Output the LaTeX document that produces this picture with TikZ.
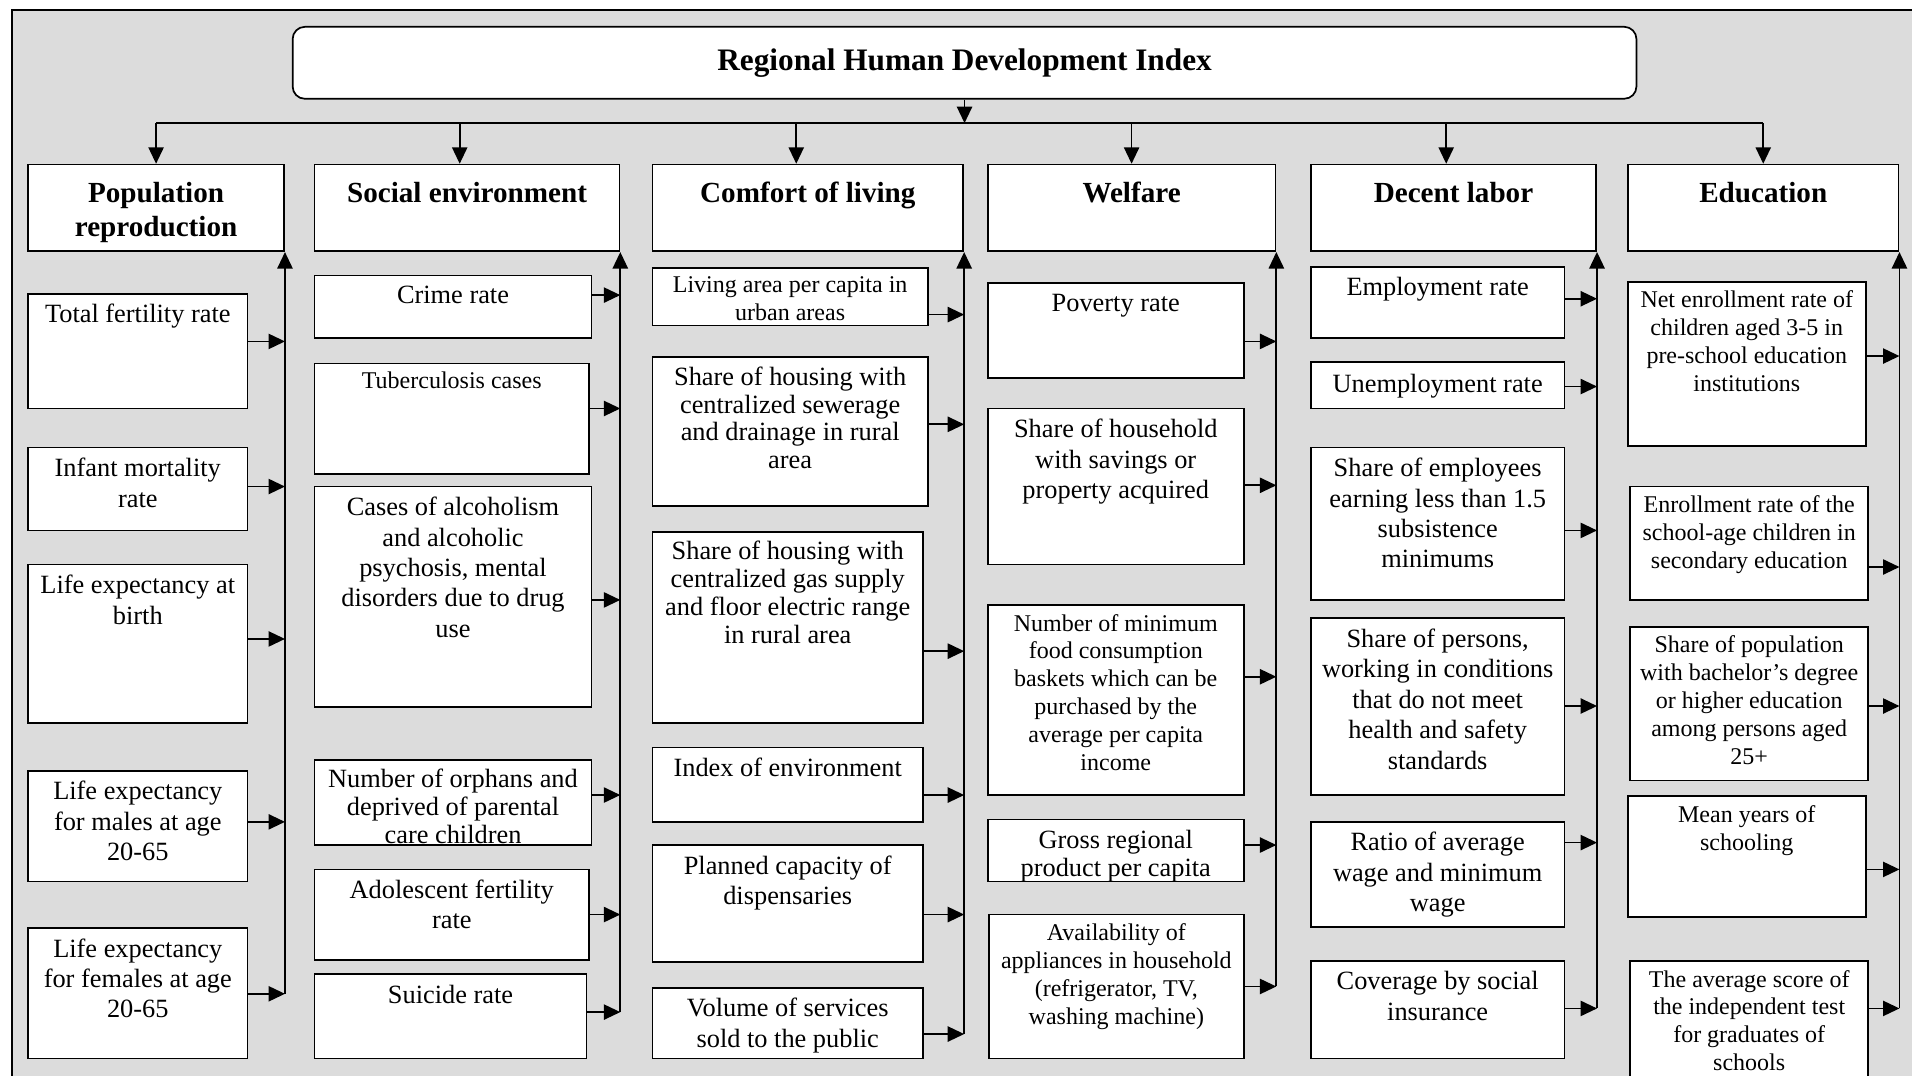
\documentclass[tikz,border=0pt]{standalone}
\usepackage{fontspec}
\setmainfont{Liberation Serif}
\usepackage{tikz}
\usetikzlibrary{arrows.meta,positioning,fit}
\definecolor{fondgris}{RGB}{220,220,220}
\tikzstyle{cadre}=[draw, fill=white, line width=0.8pt, inner sep=0pt]
\tikzstyle{txt}=[align=center, inner sep=0pt, font=\fontsize{12.3}{14.2}\selectfont]
\tikzstyle{txtserre}=[txt, font=\fontsize{12.3}{13}\selectfont]
\tikzstyle{petit}=[txt, font=\fontsize{11.2}{13}\selectfont]
\tikzstyle{rubrique}=[align=center, inner sep=0pt, font=\fontsize{13.6}{15.9}\selectfont\bfseries]

\begin{document}
\begin{tikzpicture}[x=0.2mm, y=-0.2mm]
	\tikzstyle{fleche}=[line width=0.8pt, -{Triangle[length=2.7mm,width=2.5mm]}]
	\useasboundingbox (0,0) rectangle (1568,882);
	\clip (0,0) rectangle (1568,882);
	\fill[white] (0,0) rectangle (1568,882);
	\draw[fill=fondgris, line width=1pt] (10,8) rectangle (1620,940);

	% Indice
	\node[cadre, rounded corners=2mm, fit={(240,22) (1342,81)}] (idh) {};
	\node[inner sep=0pt, font=\fontsize{14.6}{17}\selectfont\bfseries] (idht) at (idh.center) {Regional Human Development Index};
	\coordinate (bus) at (791,101);

	% Rubriques
	\node[cadre, fit={(23,135) (233,206)}] (hpr) {};
	\node[cadre, fit={(258,135) (508,206)}] (hse) {};
	\node[cadre, fit={(535,135) (790,206)}] (hcl) {};
	\node[cadre, fit={(810,135) (1046,206)}] (hwf) {};
	\node[cadre, fit={(1075,135) (1309,206)}] (hdl) {};
	\node[cadre, fit={(1335,135) (1557,206)}] (hed) {};
	\node[rubrique, below=2.9mm of hpr.north] (hprt) {Population\\reproduction};
	\node[rubrique, below=2.9mm of hse.north] (hset) {Social environment};
	\node[rubrique, below=2.9mm of hcl.north] (hclt) {Comfort of living};
	\node[rubrique, below=2.9mm of hwf.north] (hwft) {Welfare};
	\node[rubrique, below=2.9mm of hdl.north] (hdlt) {Decent labor};
	\node[rubrique, below=2.9mm of hed.north] (hedt) {Education};

	% Population reproduction
	\node[cadre, fit={(23,241) (203,335)}] (pr1) {};
	\node[cadre, fit={(23,367) (203,435)}] (pr2) {};
	\node[cadre, fit={(23,463) (203,593)}] (pr3) {};
	\node[cadre, fit={(23,632) (203,723)}] (pr4) {};
	\node[cadre, fit={(23,761) (203,868)}] (pr5) {};
	\node[txt, below=1.8mm of pr1.north] (pr1t) {Total fertility rate};
	\node[txt, below=1.8mm of pr2.north] (pr2t) {Infant mortality\\rate};
	\node[txt, below=1.8mm of pr3.north] (pr3t) {Life expectancy at\\birth};
	\node[txt, below=1.8mm of pr4.north] (pr4t) {Life expectancy\\for males at age\\20-65};
	\node[txt, below=1.8mm of pr5.north] (pr5t) {Life expectancy\\for females at age\\20-65};

	% Social environment
	\node[cadre, fit={(258,226) (485,277)}] (se1) {};
	\node[cadre, fit={(258,298) (483,389)}] (se2) {};
	\node[cadre, fit={(258,399) (485,580)}] (se3) {};
	\node[cadre, fit={(258,623) (485,693)}] (se4) {};
	\node[cadre, fit={(258,713) (483,787)}] (se5) {};
	\node[cadre, fit={(258,799) (481,868)}] (se6) {};
	\node[txt, below=1.8mm of se1.north] (se1t) {Crime rate};
	\node[petit, below=1.5mm of se2.north] (se2t) {Tuberculosis cases};
	\node[txt, below=1.8mm of se3.north] (se3t) {Cases of alcoholism\\and alcoholic\\psychosis, mental\\disorders due to drug\\use};
	\node[txtserre, below=1.6mm of se4.north] (se4t) {Number of orphans and\\deprived of parental\\care children};
	\node[txt, below=1.8mm of se5.north] (se5t) {Adolescent fertility\\rate};
	\node[txt, below=1.8mm of se6.north] (se6t) {Suicide rate};

	% Comfort of living
	\node[cadre, fit={(535,220) (761,267)}] (cl1) {};
	\node[cadre, fit={(535,293) (761,415)}] (cl2) {};
	\node[cadre, fit={(535,436) (757,593)}] (cl3) {};
	\node[cadre, fit={(535,613) (757,674)}] (cl4) {};
	\node[cadre, fit={(535,693) (757,789)}] (cl5) {};
	\node[cadre, fit={(535,810) (757,868)}] (cl6) {};
	\node[petit, below=1.5mm of cl1.north] (cl1t) {Living area per capita in\\urban areas};
	\node[txtserre, below=1.6mm of cl2.north] (cl2t) {Share of housing with\\centralized sewerage\\and drainage in rural\\area};
	\node[txtserre, below=1.6mm of cl3.north] (cl3t) {Share of housing with\\centralized gas supply\\and floor electric range\\in rural area};
	\node[txt, below=1.8mm of cl4.north] (cl4t) {Index of environment};
	\node[txt, below=1.8mm of cl5.north] (cl5t) {Planned capacity of\\dispensaries};
	\node[txt, below=1.8mm of cl6.north] (cl6t) {Volume of services\\sold to the public};

	% Welfare
	\node[cadre, fit={(810,232) (1020,310)}] (wf1) {};
	\node[cadre, fit={(810,335) (1020,463)}] (wf2) {};
	\node[cadre, fit={(810,496) (1020,652)}] (wf3) {};
	\node[cadre, fit={(810,672) (1020,723)}] (wf4) {};
	\node[cadre, fit={(811,750) (1020,868)}] (wf5) {};
	\node[txt, below=1.9mm of wf1.north] (wf1t) {Poverty rate};
	\node[txt, below=1.8mm of wf2.north] (wf2t) {Share of household\\with savings or\\property acquired};
	\node[petit, below=1.6mm of wf3.north] (wf3t) {Number of minimum\\food consumption\\baskets which can be\\purchased by the\\average per capita\\income};
	\node[txtserre, below=1.8mm of wf4.north] (wf4t) {Gross regional\\product per capita};
	\node[petit, below=1.6mm of wf5.north] (wf5t) {Availability of\\appliances in household\\(refrigerator, TV,\\washing machine)};

	% Decent labor
	\node[cadre, fit={(1075,219) (1283,277)}] (dl1) {};
	\node[cadre, fit={(1075,297) (1283,335)}] (dl2) {};
	\node[cadre, fit={(1075,367) (1283,492)}] (dl3) {};
	\node[cadre, fit={(1075,507) (1283,652)}] (dl4) {};
	\node[cadre, fit={(1075,674) (1283,760)}] (dl5) {};
	\node[cadre, fit={(1075,788) (1283,868)}] (dl6) {};
	\node[txt, below=1.8mm of dl1.north] (dl1t) {Employment rate};
	\node[txt, below=2mm of dl2.north] (dl2t) {Unemployment rate};
	\node[txt, below=1.8mm of dl3.north] (dl3t) {Share of employees\\earning less than 1.5\\subsistence\\minimums};
	\node[txt, below=1.8mm of dl4.north] (dl4t) {Share of persons,\\working in conditions\\that do not meet\\health and safety\\standards};
	\node[txt, below=1.8mm of dl5.north] (dl5t) {Ratio of average\\wage and minimum\\wage};
	\node[txt, below=1.8mm of dl6.north] (dl6t) {Coverage by social\\insurance};

	% Education
	\node[cadre, fit={(1335,231) (1530,366)}] (ed1) {};
	\node[cadre, fit={(1337,399) (1532,492)}] (ed2) {};
	\node[cadre, fit={(1337,514) (1532,640)}] (ed3) {};
	\node[cadre, fit={(1335,653) (1530,752)}] (ed4) {};
	\node[cadre, fit={(1337,788) (1532,895)}] (ed5) {};
	\node[petit, below=1.6mm of ed1.north] (ed1t) {Net enrollment rate of\\children aged 3-5 in\\pre-school education\\institutions};
	\node[petit, below=1.6mm of ed2.north] (ed2t) {Enrollment rate of the\\school-age children in\\secondary education};
	\node[petit, below=1.6mm of ed3.north] (ed3t) {Share of population\\with bachelor’s degree\\or higher education\\among persons aged\\25+};
	\node[petit, below=1.6mm of ed4.north] (ed4t) {Mean years of\\schooling};
	\node[petit, below=1.6mm of ed5.north] (ed5t) {The average score of\\the independent test\\for graduates of\\schools};

	% Liaisons indice - rubriques
	\draw[fleche] (idh.south) -- (bus);
	\draw[line width=0.8pt] (hpr.north |- bus) -- (hed.north |- bus);
	\path[fleche]
	(hpr.north |- bus) edge (hpr.north)
	(bus -| 377,0) edge (hse.north -| 377,0)
	(bus -| 653,0) edge (hcl.north -| 653,0)
	(hwf.north |- bus) edge (hwf.north)
	(bus -| 1186,0) edge (hdl.north -| 1186,0)
	(hed.north |- bus) edge (hed.north)
	;

	% Collecteurs
	\draw[fleche] (hpr.south east |- 0,815) -- (hpr.south east);
	\draw[fleche] (hse.south east |- 0,830) -- (hse.south east);
	\draw[fleche] (hcl.south east |- 0,848) -- (hcl.south east);
	\draw[fleche] (hwf.south east |- 0,809) -- (hwf.south east);
	\draw[fleche] (hdl.south east |- 0,827) -- (hdl.south east);
	\draw[fleche] (hed.south east |- 0,827) -- (hed.south east);

	% Indicateurs vers collecteurs
	\path[fleche]
	(pr1.east |- 0,280) edge (hpr.south east |- 0,280)
	(pr2.east |- 0,399) edge (hpr.south east |- 0,399)
	(pr3.east |- 0,524) edge (hpr.south east |- 0,524)
	(pr4.east |- 0,674) edge (hpr.south east |- 0,674)
	(pr5.east |- 0,815) edge (hpr.south east |- 0,815)
	(se1.east |- 0,242) edge (hse.south east |- 0,242)
	(se2.east |- 0,335) edge (hse.south east |- 0,335)
	(se3.east |- 0,492) edge (hse.south east |- 0,492)
	(se4.east |- 0,652) edge (hse.south east |- 0,652)
	(se5.east |- 0,750) edge (hse.south east |- 0,750)
	(se6.east |- 0,830) edge (hse.south east |- 0,830)
	(cl1.east |- 0,258) edge (hcl.south east |- 0,258)
	(cl2.east |- 0,348) edge (hcl.south east |- 0,348)
	(cl3.east |- 0,534) edge (hcl.south east |- 0,534)
	(cl4.east |- 0,652) edge (hcl.south east |- 0,652)
	(cl5.east |- 0,750) edge (hcl.south east |- 0,750)
	(cl6.east |- 0,848) edge (hcl.south east |- 0,848)
	(wf1.east |- 0,280) edge (hwf.south east |- 0,280)
	(wf2.east |- 0,398) edge (hwf.south east |- 0,398)
	(wf3.east |- 0,555) edge (hwf.south east |- 0,555)
	(wf4.east |- 0,693) edge (hwf.south east |- 0,693)
	(wf5.east |- 0,809) edge (hwf.south east |- 0,809)
	(dl1.east |- 0,245) edge (hdl.south east |- 0,245)
	(dl2.east |- 0,317) edge (hdl.south east |- 0,317)
	(dl3.east |- 0,435) edge (hdl.south east |- 0,435)
	(dl4.east |- 0,579) edge (hdl.south east |- 0,579)
	(dl5.east |- 0,691) edge (hdl.south east |- 0,691)
	(dl6.east |- 0,827) edge (hdl.south east |- 0,827)
	(ed1.east |- 0,292) edge (hed.south east |- 0,292)
	(ed2.east |- 0,465) edge (hed.south east |- 0,465)
	(ed3.east |- 0,579) edge (hed.south east |- 0,579)
	(ed4.east |- 0,713) edge (hed.south east |- 0,713)
	(ed5.east |- 0,827) edge (hed.south east |- 0,827)
	;
\end{tikzpicture}
\end{document}
